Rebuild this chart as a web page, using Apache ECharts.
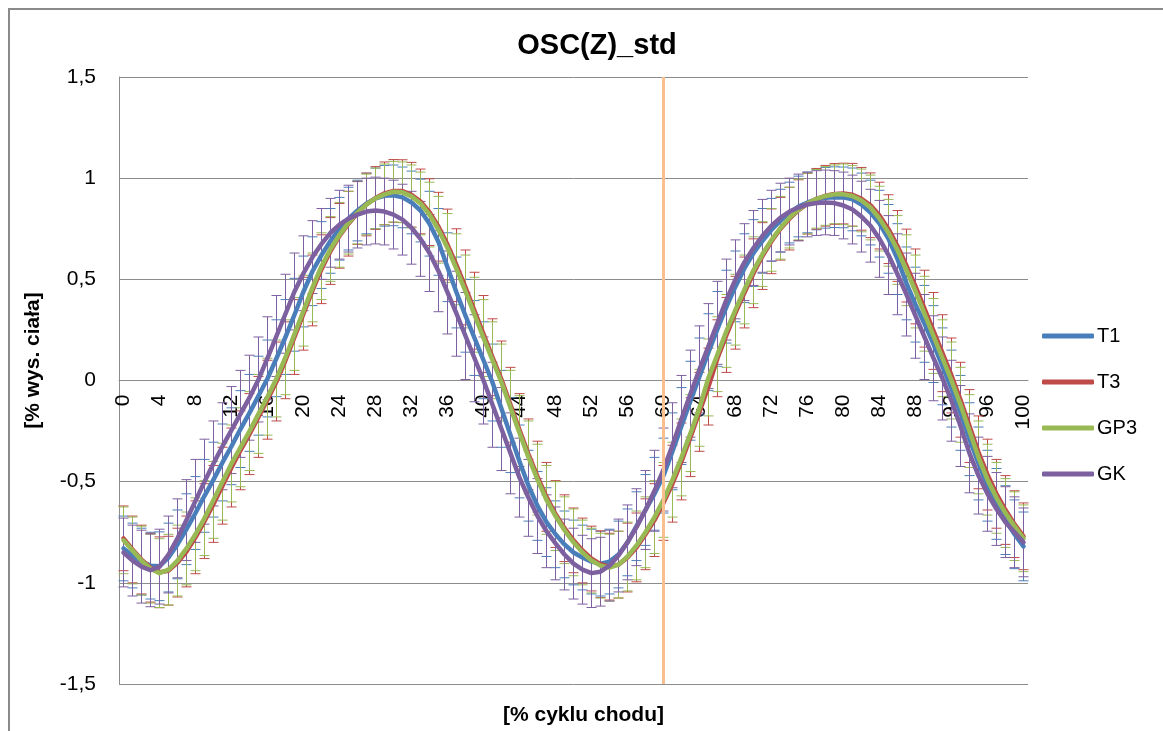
<!DOCTYPE html>
<html>
<head>
<meta charset="utf-8">
<script src="https://cdn.jsdelivr.net/npm/echarts@6/dist/echarts.min.js"></script>
<style>
  html, body { margin: 0; padding: 0; background: #fff; }
  #chart { width: 1163px; height: 731px; }
</style>
</head>
<body>
<div id="chart"></div>
<script>
// % of gait cycle, 0..100
const categories = Array.from({ length: 101 }, (_, i) => String(i));

// Mean curves, % body height
const T1 = [
  -0.83, -0.865, -0.895, -0.915, -0.918, -0.875, -0.81, -0.735, -0.655, -0.57,
  -0.49, -0.405, -0.325, -0.24, -0.16, -0.075, 0.01, 0.11, 0.215, 0.325,
  0.44, 0.54, 0.62, 0.69, 0.75, 0.80, 0.84, 0.875, 0.90, 0.913,
  0.915, 0.905, 0.88, 0.84, 0.775, 0.685, 0.56, 0.435, 0.32, 0.21,
  0.10, -0.01, -0.14, -0.27, -0.40, -0.52, -0.62, -0.70, -0.76, -0.81,
  -0.85, -0.875, -0.895, -0.905, -0.895, -0.86, -0.80, -0.72, -0.64, -0.56,
  -0.47, -0.35, -0.225, -0.10, 0.02, 0.14, 0.255, 0.365, 0.465, 0.555,
  0.63, 0.69, 0.745, 0.79, 0.83, 0.86, 0.88, 0.895, 0.903, 0.906,
  0.905, 0.895, 0.87, 0.83, 0.775, 0.70, 0.60, 0.48, 0.375, 0.28,
  0.18, 0.07, -0.04, -0.16, -0.29, -0.41, -0.52, -0.61, -0.69, -0.76,
  -0.82
];
const T3 = [
  -0.78, -0.835, -0.885, -0.925, -0.948, -0.94, -0.90, -0.845, -0.775, -0.695,
  -0.61, -0.52, -0.43, -0.345, -0.265, -0.18, -0.095, -0.005, 0.10, 0.215,
  0.33, 0.445, 0.55, 0.64, 0.715, 0.775, 0.828, 0.87, 0.902, 0.925,
  0.937, 0.936, 0.918, 0.885, 0.832, 0.76, 0.672, 0.57, 0.46, 0.345,
  0.23, 0.115, 0.005, -0.12, -0.245, -0.365, -0.475, -0.575, -0.66, -0.73,
  -0.79, -0.84, -0.88, -0.908, -0.92, -0.91, -0.875, -0.825, -0.76, -0.69,
  -0.605, -0.51, -0.40, -0.28, -0.155, -0.03, 0.11, 0.225, 0.335, 0.435,
  0.53, 0.615, 0.688, 0.75, 0.80, 0.842, 0.874, 0.898, 0.913, 0.922,
  0.924, 0.918, 0.898, 0.866, 0.815, 0.748, 0.665, 0.568, 0.465, 0.355,
  0.245, 0.135, 0.025, -0.095, -0.225, -0.355, -0.465, -0.56, -0.64, -0.71,
  -0.77
];
const GP3 = [
  -0.79, -0.84, -0.89, -0.93, -0.952, -0.935, -0.89, -0.83, -0.76, -0.68,
  -0.59, -0.50, -0.41, -0.33, -0.25, -0.165, -0.08, 0.01, 0.115, 0.23,
  0.345, 0.46, 0.565, 0.65, 0.72, 0.78, 0.83, 0.87, 0.90, 0.92,
  0.933, 0.93, 0.91, 0.875, 0.82, 0.745, 0.655, 0.55, 0.44, 0.325,
  0.21, 0.10, -0.01, -0.135, -0.26, -0.38, -0.49, -0.59, -0.67, -0.74,
  -0.80, -0.85, -0.89, -0.915, -0.925, -0.91, -0.87, -0.815, -0.75, -0.675,
  -0.59, -0.49, -0.38, -0.26, -0.135, 0.015, 0.13, 0.245, 0.35, 0.45,
  0.545, 0.625, 0.695, 0.755, 0.805, 0.845, 0.875, 0.898, 0.912, 0.92,
  0.92, 0.912, 0.89, 0.855, 0.80, 0.73, 0.645, 0.545, 0.44, 0.33,
  0.22, 0.11, 0.0, -0.12, -0.25, -0.38, -0.49, -0.58, -0.655, -0.72,
  -0.78
];
const GK = [
  -0.85, -0.89, -0.92, -0.938, -0.92, -0.86, -0.78, -0.69, -0.595, -0.50,
  -0.41, -0.325, -0.245, -0.165, -0.085, 0.005, 0.11, 0.22, 0.33, 0.44,
  0.53, 0.61, 0.675, 0.73, 0.77, 0.80, 0.82, 0.835, 0.84, 0.835,
  0.82, 0.795, 0.755, 0.70, 0.63, 0.54, 0.435, 0.33, 0.22, 0.11,
  0.0, -0.12, -0.24, -0.36, -0.48, -0.58, -0.67, -0.745, -0.805, -0.86,
  -0.905, -0.935, -0.952, -0.945, -0.915, -0.865, -0.80, -0.725, -0.64, -0.545,
  -0.44, -0.32, -0.19, -0.065, 0.055, 0.17, 0.285, 0.40, 0.50, 0.585,
  0.655, 0.715, 0.765, 0.805, 0.835, 0.855, 0.87, 0.877, 0.88, 0.877,
  0.865, 0.845, 0.81, 0.765, 0.70, 0.62, 0.525, 0.425, 0.32, 0.215,
  0.11, 0.01, -0.10, -0.225, -0.36, -0.47, -0.56, -0.635, -0.70, -0.75,
  -0.80
];

// Standard deviations (error bars)
const stdT1 = [
  0.16, 0.16, 0.165, 0.165, 0.17, 0.17, 0.17,
  0.175, 0.18, 0.18, 0.185, 0.19, 0.19,
  0.19, 0.19, 0.195, 0.19, 0.19, 0.185, 0.18, 0.175,
  0.17, 0.165, 0.16, 0.155, 0.155, 0.15, 0.15,
  0.15, 0.15, 0.15, 0.15, 0.155, 0.155,
  0.16, 0.165, 0.17, 0.175, 0.18, 0.185, 0.19, 0.19, 0.19, 0.185, 0.18, 0.175,
  0.17, 0.17, 0.165, 0.165, 0.16, 0.16, 0.16, 0.16, 0.16, 0.165, 0.165,
  0.17, 0.175, 0.18, 0.185, 0.19, 0.19, 0.195, 0.19, 0.19, 0.185, 0.18, 0.175, 0.17, 0.165,
  0.16, 0.155, 0.155, 0.15, 0.15, 0.15, 0.15, 0.15, 0.15, 0.15, 0.155, 0.155, 0.16, 0.165, 0.17,
  0.175, 0.18, 0.185, 0.19, 0.19, 0.19, 0.19, 0.185, 0.18, 0.18, 0.175, 0.175, 0.17, 0.17, 0.17
];
const stdT3 = [
  0.16, 0.165, 0.17, 0.17, 0.175, 0.17, 0.17, 0.175, 0.18, 0.185, 0.19,
  0.19, 0.195, 0.195, 0.2, 0.2, 0.195, 0.195, 0.19, 0.185, 0.18,
  0.175, 0.17, 0.165, 0.16, 0.16, 0.155, 0.155, 0.155, 0.155, 0.155,
  0.155, 0.16, 0.16, 0.165, 0.17, 0.175, 0.18, 0.185, 0.19, 0.19,
  0.19, 0.19, 0.185, 0.18, 0.175, 0.175, 0.17, 0.165, 0.165, 0.16,
  0.16, 0.16, 0.165, 0.165, 0.165, 0.17, 0.17, 0.175, 0.18, 0.185,
  0.19, 0.19, 0.195, 0.195, 0.19, 0.19, 0.185, 0.18, 0.175, 0.17,
  0.165, 0.16, 0.155, 0.155, 0.15, 0.15, 0.15, 0.15, 0.15, 0.15,
  0.155, 0.155, 0.16, 0.165, 0.17, 0.175, 0.18, 0.185, 0.19, 0.19,
  0.19, 0.185, 0.185, 0.18, 0.18, 0.175, 0.17, 0.17, 0.165, 0.165
];
const stdGP3 = [
  0.165, 0.165, 0.17, 0.17, 0.17, 0.175, 0.175, 0.18, 0.18, 0.185, 0.19,
  0.19, 0.19, 0.195, 0.195, 0.195, 0.19, 0.19, 0.185, 0.18, 0.175,
  0.17, 0.165, 0.16, 0.16, 0.155, 0.155, 0.15, 0.15, 0.15, 0.15,
  0.15, 0.155, 0.155, 0.16, 0.165, 0.17, 0.175, 0.18, 0.185, 0.19,
  0.19, 0.19, 0.185, 0.185, 0.18, 0.175, 0.17, 0.17, 0.165, 0.165,
  0.16, 0.16, 0.16, 0.165, 0.165, 0.17, 0.17, 0.175, 0.18, 0.185,
  0.185, 0.19, 0.19, 0.19, 0.19, 0.185, 0.18, 0.175, 0.17, 0.165,
  0.16, 0.155, 0.155, 0.15, 0.15, 0.15, 0.145, 0.145, 0.145, 0.15,
  0.15, 0.155, 0.16, 0.16, 0.165, 0.17, 0.175, 0.18, 0.185, 0.185,
  0.19, 0.19, 0.185, 0.18, 0.18, 0.175, 0.175, 0.17, 0.17, 0.165
];
const stdGK = [
  0.17, 0.175, 0.18, 0.18, 0.185, 0.19, 0.195, 0.2, 0.205, 0.21, 0.21,
  0.215, 0.215, 0.215, 0.21, 0.21, 0.205, 0.2, 0.195, 0.19, 0.185,
  0.18, 0.175, 0.17, 0.17, 0.165, 0.165, 0.165, 0.165, 0.165, 0.17,
  0.175, 0.18, 0.185, 0.19, 0.2, 0.205, 0.21, 0.215, 0.215, 0.215,
  0.21, 0.205, 0.2, 0.195, 0.19, 0.185, 0.18, 0.18, 0.175, 0.175,
  0.17, 0.17, 0.17, 0.175, 0.18, 0.185, 0.19, 0.195, 0.2, 0.205,
  0.21, 0.215, 0.215, 0.215, 0.21, 0.205, 0.2, 0.195, 0.19, 0.185,
  0.18, 0.175, 0.17, 0.165, 0.165, 0.16, 0.16, 0.16, 0.16, 0.165,
  0.17, 0.175, 0.18, 0.19, 0.195, 0.2, 0.205, 0.21, 0.21, 0.21,
  0.205, 0.2, 0.2, 0.195, 0.19, 0.185, 0.18, 0.175, 0.175, 0.17
];

// Marked phase of the gait cycle
const markedPhase = '60';

const seriesDefs = [
  { name: 'T1',  mean: T1,  std: stdT1,  color: '#4A7EBB' },
  { name: 'T3',  mean: T3,  std: stdT3,  color: '#BE4B48' },
  { name: 'GP3', mean: GP3, std: stdGP3, color: '#98B954' },
  { name: 'GK',  mean: GK,  std: stdGK,  color: '#7D60A0' }
];

const FONT = "'Liberation Sans', Arial, sans-serif";
const GRID_COLOR = '#8c8c8c';
const GRID_HEIGHT = 607;

function errorBarRenderer(color) {
  return function (params, api) {
    const x = api.value(0);
    const lo = api.coord([x, api.value(1)]);
    const hi = api.coord([x, api.value(2)]);
    const hw = 5;
    const style = { stroke: color, lineWidth: 1 };
    return {
      type: 'group',
      children: [
        { type: 'line', shape: { x1: hi[0], y1: hi[1], x2: lo[0], y2: lo[1] }, style },
        { type: 'line', shape: { x1: hi[0] - hw, y1: hi[1], x2: hi[0] + hw, y2: hi[1] }, style },
        { type: 'line', shape: { x1: lo[0] - hw, y1: lo[1], x2: lo[0] + hw, y2: lo[1] }, style }
      ]
    };
  };
}

const errorSeries = seriesDefs.map((s, k) => {
  const def = {
    name: s.name + ' std',
    type: 'custom',
    xAxisIndex: 0,
    yAxisIndex: 0,
    renderItem: errorBarRenderer(s.color),
    encode: { x: 0, y: [1, 2] },
    data: s.mean.map((m, i) => [i, m - s.std[i], m + s.std[i]]),
    z: 2,
    silent: true
  };
  if (k === 0) {
    def.markLine = {
      silent: true,
      symbol: 'none',
      label: { show: false },
      lineStyle: { color: '#F9BF8F', width: 3, type: 'solid' },
      data: [{ xAxis: markedPhase }]
    };
  }
  return def;
});

const lineSeries = seriesDefs.map(s => ({
  name: s.name,
  type: 'line',
  xAxisIndex: 0,
  yAxisIndex: 0,
  data: s.mean,
  showSymbol: false,
  symbol: 'none',
  smooth: false,
  itemStyle: { color: s.color },
  lineStyle: { color: s.color, width: 4.5, cap: 'round', join: 'round' },
  z: 3
}));

const chart = echarts.init(document.getElementById('chart'), null, { renderer: 'canvas' });

chart.setOption({
  animation: false,
  backgroundColor: '#fff',
  textStyle: { fontFamily: FONT },
  title: {
    text: 'OSC(Z)_std',
    left: 592,
    top: 26,
    textAlign: 'center',
    textStyle: { fontFamily: FONT, fontSize: 29, fontWeight: 'bold', color: '#000' }
  },
  graphic: [{
    type: 'rect',
    silent: true,
    shape: { x: 9, y: 9, width: 1400, height: 1000 },
    style: { fill: 'none', stroke: '#8a8a8a', lineWidth: 2 }
  }],
  legend: {
    data: seriesDefs.map(s => s.name),
    orient: 'vertical',
    left: 1042,
    top: 326,
    icon: 'roundRect',
    itemWidth: 52,
    itemHeight: 5,
    itemGap: 26,
    padding: 0,
    textStyle: { fontFamily: FONT, fontSize: 20, color: '#000', padding: [0, 0, 0, -2] }
  },
  grid: { left: 119, top: 77, width: 909, height: GRID_HEIGHT, containLabel: false },
  xAxis: [
    {
      // category axis drawn across the plot at y = 0
      type: 'category',
      data: categories,
      position: 'bottom',
      offset: -GRID_HEIGHT / 2,
      boundaryGap: true,
      axisLine: { show: true, onZero: false, lineStyle: { color: GRID_COLOR, width: 1 } },
      axisTick: { show: false },
      axisLabel: {
        interval: 3,
        rotate: 90,
        margin: 14,
        fontSize: 21,
        color: '#000',
        fontFamily: FONT
      },
      splitLine: { show: false }
    },
    {
      type: 'category',
      data: categories,
      position: 'bottom',
      boundaryGap: true,
      axisLine: { show: false, onZero: false },
      axisTick: { show: false },
      axisLabel: { show: false },
      splitLine: { show: false },
      name: '[% cyklu chodu]',
      nameLocation: 'middle',
      nameGap: 21,
      nameTextStyle: {
        fontFamily: FONT, fontSize: 21, fontWeight: 'bold', color: '#000',
        padding: [0, 0, 0, 20]
      }
    }
  ],
  yAxis: {
    type: 'value',
    min: -1.5,
    max: 1.5,
    interval: 0.5,
    axisLine: { show: true, lineStyle: { color: GRID_COLOR, width: 1 } },
    axisTick: { show: false },
    axisLabel: {
      fontSize: 21,
      color: '#000',
      margin: 23,
      fontFamily: FONT,
      formatter: v => String(v).replace('.', ',')
    },
    splitLine: { show: true, lineStyle: { color: GRID_COLOR, width: 1 } },
    name: '[% wys. ciała]',
    nameLocation: 'middle',
    nameGap: 75,
    nameTextStyle: {
      fontFamily: FONT, fontSize: 21, fontWeight: 'bold', color: '#000',
      padding: [0, 0, 0, 40]
    }
  },
  series: [...errorSeries, ...lineSeries]
});
</script>
</body>
</html>
